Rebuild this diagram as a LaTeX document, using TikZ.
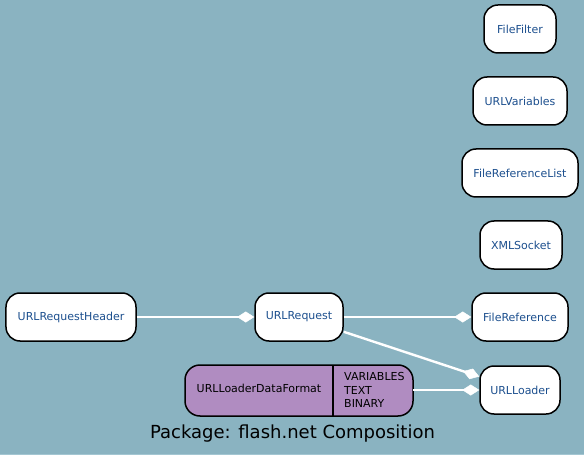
\documentclass[tikz,border=0pt]{standalone}
\usepackage{fontspec}
\setmainfont{DejaVu Sans}
\usetikzlibrary{arrows.meta}
\definecolor{bgc}{HTML}{8AB3C1}
\definecolor{bgl}{HTML}{A3C6D2}
\definecolor{txtblue}{HTML}{1C4F8E}
\definecolor{purp}{HTML}{B08CC1}
\tikzset{
  cls/.style={draw=black, line width=1.5bp, fill=white, rounded corners=14bp,
    minimum height=48bp, inner sep=0pt, text=txtblue,
    font=\fontsize{11bp}{13bp}\selectfont},
  comp/.style={draw=white, line width=2.4bp,
    -{Diamond[length=17bp,width=11bp,fill=white,line width=0.5bp]}},
}
\begin{document}
\begin{tikzpicture}[x=1bp,y=-1bp]
\fill[bgc] (0,0) rectangle (584,455);
\fill[bgl] (0,454) rectangle (584,455);
\useasboundingbox (0,0) rectangle (584,455);

\node[cls, minimum width=72bp] (filefilter) at (520,29) {FileFilter};
\node[cls, minimum width=94bp] (urlvariables) at (520,101) {URLVariables};
\node[cls, minimum width=116bp] (filereflist) at (520,173) {FileReferenceList};
\node[cls, minimum width=82bp] (xmlsocket) at (521,245) {XMLSocket};
\node[cls, minimum width=130bp] (urlreqheader) at (71,317) {URLRequestHeader};
\node[cls, minimum width=88bp] (urlrequest) at (299,317) {URLRequest};
\node[cls, minimum width=96bp] (fileref) at (520,317) {FileReference};
\node[cls, minimum width=80bp] (urlloader) at (520,390) {URLLoader};

% enumeration node with two compartments
\draw[line width=1.5bp, fill=purp, rounded corners=15bp] (185,365) rectangle (413,416);
\coordinate (dfright) at (413,390);
\draw[line width=1.5bp] (333,365) -- (333,416);
\node[font=\fontsize{11bp}{13bp}\selectfont, text=black] (dfname) at (259,388) {URLLoaderDataFormat};
\node[font=\fontsize{11bp}{13.4bp}\selectfont, text=black, align=left, anchor=west, inner sep=0pt] (dfvals) at (344,390) {VARIABLES\\TEXT\\BINARY};

\draw[comp] (urlreqheader) -- (urlrequest);
\draw[comp] (urlrequest) -- (fileref);
\draw[comp] (urlrequest) -- (urlloader);
\draw[comp] (dfright) -- (urlloader);

\node[font=\fontsize{18bp}{20bp}\selectfont, text=black] (title) at (292.5,434) {Package: flash.net Composition};
\end{tikzpicture}
\end{document}
